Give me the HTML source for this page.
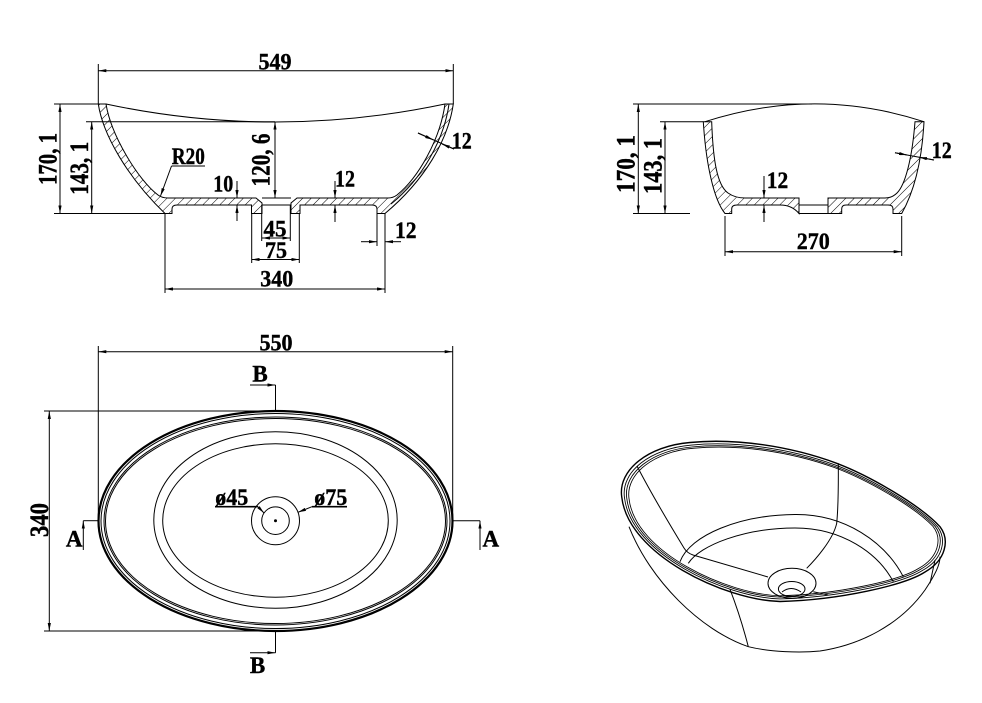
<!DOCTYPE html>
<html><head><meta charset="utf-8"><style>
html,body{margin:0;padding:0;background:#fff;}
svg{display:block;}
.t{font-family:"Liberation Serif","DejaVu Serif",serif;font-weight:bold;font-size:23px;fill:#000;stroke:#000;stroke-width:0.4;}
.v{font-family:"Liberation Serif","DejaVu Serif",serif;font-weight:bold;font-size:26px;fill:#000;stroke:#000;stroke-width:0.4;}
.l{font-family:"Liberation Serif","DejaVu Serif",serif;font-weight:bold;font-size:23px;fill:#000;stroke:#000;stroke-width:0.4;}
</style></head><body>
<svg width="982" height="703" viewBox="0 0 982 703" xmlns="http://www.w3.org/2000/svg">
<defs>
<marker id="a" viewBox="0 0 10 4" refX="10" refY="2" markerWidth="8" markerHeight="3.2" markerUnits="userSpaceOnUse" orient="auto-start-reverse"><path d="M0,0 L10,2 L0,4 z" fill="#000"/></marker>
<pattern id="h" patternUnits="userSpaceOnUse" width="6" height="6" patternTransform="rotate(45)"><line x1="0" y1="0" x2="0" y2="6" stroke="#000" stroke-width="1"/></pattern>
</defs>
<rect width="982" height="703" fill="#fff"/>
<g fill="none" stroke="#000" stroke-width="1">

<!-- ============ LEFT SECTION ============ -->
<path d="M98.3,104 C103,135 128,178 165,213.5 L172,213.5 L172,209 Q172,205 177,205 L251.5,205 L251.5,213.5 L262,213.5 L262,203 L256,198 L168,198 Q162,198 158,195 C138,180 111,135 106,104 Z" fill="url(#h)"/>
<path d="M453.3,104 C448,140 425,180 385,213.5 L377,213.5 L377,209 Q377,205 372,205 L300,205 L300,213.5 L291,213.5 L291,203 L297,198 L388,198 Q393,198 397,195 C418,178 440,140 445,104 Z" fill="url(#h)"/>
<path d="M449,104 C444,140 422,179 391,204"/>
<path d="M106,104 Q275,140 445,104"/>
<line x1="262" y1="198" x2="291" y2="198"/>
<line x1="262" y1="205" x2="291" y2="205"/>

<!-- dims left section -->
<line x1="98.3" y1="64" x2="98.3" y2="104"/>
<line x1="453.3" y1="64" x2="453.3" y2="104"/>
<line x1="98.3" y1="70.7" x2="453.3" y2="70.7" marker-start="url(#a)" marker-end="url(#a)"/>
<line x1="54" y1="104" x2="98.3" y2="104"/>
<line x1="54" y1="213.5" x2="165" y2="213.5"/>
<line x1="60" y1="104" x2="60" y2="213.5" marker-start="url(#a)" marker-end="url(#a)"/>
<line x1="86" y1="121.7" x2="275" y2="121.7"/>
<line x1="91.7" y1="121.7" x2="91.7" y2="213.5" marker-start="url(#a)" marker-end="url(#a)"/>
<line x1="275" y1="121.7" x2="275" y2="198" marker-start="url(#a)" marker-end="url(#a)"/>
<line x1="171.5" y1="166" x2="205" y2="166"/>
<line x1="171.5" y1="166" x2="160.5" y2="196" marker-end="url(#a)"/>
<line x1="237" y1="181" x2="237" y2="198" marker-end="url(#a)"/>
<line x1="237" y1="221" x2="237" y2="205" marker-end="url(#a)"/>
<line x1="335" y1="181" x2="335" y2="198" marker-end="url(#a)"/>
<line x1="335" y1="222" x2="335" y2="205" marker-end="url(#a)"/>
<line x1="418" y1="133" x2="454" y2="149"/>
<line x1="418" y1="133" x2="433" y2="139.8" marker-end="url(#a)"/>
<line x1="454" y1="149" x2="442" y2="144" marker-end="url(#a)"/>
<line x1="261.7" y1="205" x2="261.7" y2="241"/>
<line x1="290.3" y1="205" x2="290.3" y2="241"/>
<line x1="262" y1="238" x2="290.3" y2="238" marker-start="url(#a)" marker-end="url(#a)"/>
<line x1="251.7" y1="213.5" x2="251.7" y2="263"/>
<line x1="299.3" y1="213.5" x2="299.3" y2="263"/>
<line x1="251.7" y1="259.5" x2="299.3" y2="259.5" marker-start="url(#a)" marker-end="url(#a)"/>
<line x1="165" y1="213.5" x2="165" y2="293"/>
<line x1="385" y1="213.5" x2="385" y2="293"/>
<line x1="165" y1="289" x2="385" y2="289" marker-start="url(#a)" marker-end="url(#a)"/>
<line x1="377" y1="213.5" x2="377" y2="246"/>
<line x1="361" y1="241.7" x2="377" y2="241.7" marker-end="url(#a)"/>
<line x1="401" y1="241.7" x2="385" y2="241.7" marker-end="url(#a)"/>

<!-- ============ RIGHT SECTION ============ -->
<path d="M703.3,121.7 C706,165 714,200 725,213.5 L731.7,213.5 L731.7,209 Q731.7,205 737,205 L780,205 Q792,205 799,213.5 L799,198 L745,198 Q735,198 728,193 C717,185 713,160 711.7,121.7 Z" fill="url(#h)"/>
<path d="M924,121.7 C922,160 915,190 901.7,213.5 L893,213.5 L893,209 Q893,205 888,205 L846,205 Q841.7,205 841.7,209 L841.7,213.5 L828,213.5 L828,198 L885,198 Q892,198 897,193 C905,185 912,160 915,121.7 Z" fill="url(#h)"/>
<path d="M705,121.7 Q815,86 924,121.7"/>
<line x1="799" y1="205" x2="828" y2="205"/>
<line x1="799" y1="213.5" x2="828" y2="213.5"/>

<line x1="633" y1="104" x2="812" y2="104"/>
<line x1="633" y1="213.5" x2="690" y2="213.5"/>
<line x1="638.3" y1="104" x2="638.3" y2="213.5" marker-start="url(#a)" marker-end="url(#a)"/>
<line x1="660" y1="121.7" x2="703.3" y2="121.7"/>
<line x1="665" y1="121.7" x2="665" y2="213.5" marker-start="url(#a)" marker-end="url(#a)"/>
<line x1="764" y1="176" x2="764" y2="198" marker-end="url(#a)"/>
<line x1="764" y1="222" x2="764" y2="205" marker-end="url(#a)"/>
<line x1="895" y1="152.7" x2="934" y2="160"/>
<line x1="895" y1="152.7" x2="907" y2="155" marker-end="url(#a)"/>
<line x1="934" y1="160" x2="919" y2="157.2" marker-end="url(#a)"/>
<line x1="725" y1="216" x2="725" y2="256"/>
<line x1="901.7" y1="216" x2="901.7" y2="256"/>
<line x1="725" y1="251.7" x2="901.7" y2="251.7" marker-start="url(#a)" marker-end="url(#a)"/>

<!-- ============ TOP VIEW ============ -->
<ellipse cx="275.5" cy="521" rx="177" ry="110" stroke-width="2.2"/>
<ellipse cx="275.5" cy="521" rx="174.5" ry="107.5"/>
<ellipse cx="275.5" cy="521" rx="171.5" ry="104"/>
<ellipse cx="275.5" cy="521" rx="170" ry="102.5"/>
<ellipse cx="275.5" cy="520" rx="121.7" ry="88.3"/>
<ellipse cx="275.5" cy="520.5" rx="112.8" ry="76.7"/>
<circle cx="275.5" cy="520.7" r="24"/>
<circle cx="275.5" cy="520.7" r="13.8"/>
<circle cx="275.5" cy="520.7" r="1" fill="#000"/>
<line x1="215" y1="506.7" x2="258" y2="506.7" stroke-width="1.6"/>
<line x1="258" y1="506.7" x2="264" y2="513" marker-end="url(#a)"/>
<line x1="312" y1="506.7" x2="347" y2="506.7" stroke-width="1.6"/>
<line x1="312" y1="506.7" x2="298" y2="512.3" marker-end="url(#a)"/>

<line x1="98.3" y1="346" x2="98.3" y2="521"/>
<line x1="452.7" y1="346" x2="452.7" y2="521"/>
<line x1="98.3" y1="351.7" x2="452.7" y2="351.7" marker-start="url(#a)" marker-end="url(#a)"/>
<line x1="44" y1="411" x2="275.5" y2="411"/>
<line x1="44" y1="631" x2="275.5" y2="631"/>
<line x1="49.3" y1="411" x2="49.3" y2="631" marker-start="url(#a)" marker-end="url(#a)"/>
<line x1="250" y1="385" x2="275.5" y2="385" marker-end="url(#a)"/>
<line x1="275.5" y1="385" x2="275.5" y2="411"/>
<line x1="275.5" y1="631" x2="275.5" y2="652.7"/>
<line x1="250" y1="652.7" x2="275.5" y2="652.7" marker-end="url(#a)"/>
<line x1="98.3" y1="520.7" x2="83.3" y2="520.7"/>
<line x1="83.3" y1="550" x2="83.3" y2="520.7" marker-end="url(#a)"/>
<line x1="452.7" y1="520.7" x2="480" y2="520.7"/>
<line x1="480" y1="550" x2="480" y2="520.7" marker-end="url(#a)"/>

<!-- ============ 3D VIEW ============ -->
<g stroke-width="1">
<path d="M621.7,496.7 C618,470 648,446 690,442.5 C735,438 790,446 836.7,463.3 C870,476 920,505 940,526.7 C950,540 946,560 925,572 C905,585 840,600 780,601.5 C725,600 628,555 621.7,496.7 Z" stroke-width="1.4"/>
<path transform="translate(784,522) scale(0.983,0.968) translate(-784,-522)" d="M621.7,496.7 C618,470 648,446 690,442.5 C735,438 790,446 836.7,463.3 C870,476 920,505 940,526.7 C950,540 946,560 925,572 C905,585 840,600 780,601.5 C725,600 628,555 621.7,496.7 Z" stroke-width="0.9"/>
<path transform="translate(784,522) scale(0.969,0.945) translate(-784,-522)" d="M621.7,496.7 C618,470 648,446 690,442.5 C735,438 790,446 836.7,463.3 C870,476 920,505 940,526.7 C950,540 946,560 925,572 C905,585 840,600 780,601.5 C725,600 628,555 621.7,496.7 Z" stroke-width="0.9"/>
<path transform="translate(784,522) scale(0.955,0.928) translate(-784,-522)" d="M621.7,496.7 C618,470 648,446 690,442.5 C735,438 790,446 836.7,463.3 C870,476 920,505 940,526.7 C950,540 946,560 925,572 C905,585 840,600 780,601.5 C725,600 628,555 621.7,496.7 Z" stroke-width="0.9"/>
<path d="M637,466 C652,495 670,525 684,548 Q687,553 693,555 L768,577"/>
<path d="M838.3,463.3 C838.5,490 838,510 836.7,523.3 C833,540 815,560 806.7,568.3"/>
<path d="M680,561.7 C690,535 740,515 795,514.5 C845,514 885,542 903.3,576.7"/>
<path d="M688.3,563.3 C700,545 745,528 795,528 C842,528 878,553 893.3,581.7"/>
<ellipse cx="792" cy="583.3" rx="24" ry="15"/>
<ellipse cx="791.7" cy="589" rx="13.3" ry="7.5"/>
<path d="M782,592 Q791,585 801,592"/>
<line x1="813.3" y1="591.7" x2="828.3" y2="595"/>
<path d="M629,526.7 C650,580 700,630 748.3,646.7 C770,652 800,653 820,651 C860,645 900,625 925,590 C935,575 940,565 940,556.7"/>
<path d="M730,589.3 C738,610 744,630 748.3,646.7"/>
<path d="M935,560 L930,583.3"/>
</g>
</g>

<!-- ============ TEXT ============ -->
<text class="t" x="275" y="69.5" text-anchor="middle" textLength="33" lengthAdjust="spacingAndGlyphs">549</text>
<text class="t" x="188.3" y="164" text-anchor="middle" textLength="33" lengthAdjust="spacingAndGlyphs">R20</text>
<text class="t" x="223.3" y="191.5" text-anchor="middle" textLength="20" lengthAdjust="spacingAndGlyphs">10</text>
<text class="t" x="345" y="186.5" text-anchor="middle" textLength="20" lengthAdjust="spacingAndGlyphs">12</text>
<text class="t" x="461.7" y="148.3" text-anchor="middle" textLength="20" lengthAdjust="spacingAndGlyphs">12</text>
<text class="t" x="275" y="236.5" text-anchor="middle" textLength="23" lengthAdjust="spacingAndGlyphs">45</text>
<text class="t" x="276" y="258" text-anchor="middle" textLength="22" lengthAdjust="spacingAndGlyphs">75</text>
<text class="t" x="405.8" y="238" text-anchor="middle" textLength="21.5" lengthAdjust="spacingAndGlyphs">12</text>
<text class="t" x="276.7" y="286.5" text-anchor="middle" textLength="33" lengthAdjust="spacingAndGlyphs">340</text>
<text class="t" x="777.5" y="188" text-anchor="middle" textLength="21.5" lengthAdjust="spacingAndGlyphs">12</text>
<text class="t" x="941.7" y="158" text-anchor="middle" textLength="20" lengthAdjust="spacingAndGlyphs">12</text>
<text class="t" x="813.3" y="249" text-anchor="middle" textLength="33" lengthAdjust="spacingAndGlyphs">270</text>
<text class="t" x="276" y="350.5" text-anchor="middle" textLength="33" lengthAdjust="spacingAndGlyphs">550</text>
<text class="l" x="260" y="381.5" text-anchor="middle">B</text>
<text class="l" x="257.5" y="673" text-anchor="middle">B</text>
<text class="l" x="74.2" y="546.5" text-anchor="middle">A</text>
<text class="l" x="490.8" y="546.5" text-anchor="middle">A</text>
<text class="t" x="231.7" y="505" text-anchor="middle" textLength="33" lengthAdjust="spacingAndGlyphs">ø45</text>
<text class="t" x="330.7" y="505" text-anchor="middle" textLength="33" lengthAdjust="spacingAndGlyphs">ø75</text>

<text class="v" transform="translate(56.5,159) rotate(-90)" text-anchor="middle" textLength="52" lengthAdjust="spacingAndGlyphs">170, 1</text>
<text class="v" transform="translate(88,168.3) rotate(-90)" text-anchor="middle" textLength="53" lengthAdjust="spacingAndGlyphs">143, 1</text>
<text class="v" transform="translate(269.5,160) rotate(-90)" text-anchor="middle" textLength="53" lengthAdjust="spacingAndGlyphs">120, 6</text>
<text class="v" transform="translate(634.5,164) rotate(-90)" text-anchor="middle" textLength="58" lengthAdjust="spacingAndGlyphs">170, 1</text>
<text class="v" transform="translate(661.5,166) rotate(-90)" text-anchor="middle" textLength="56" lengthAdjust="spacingAndGlyphs">143, 1</text>
<text class="v" transform="translate(48,520) rotate(-90)" text-anchor="middle" textLength="34" lengthAdjust="spacingAndGlyphs">340</text>
</svg>
</body></html>
